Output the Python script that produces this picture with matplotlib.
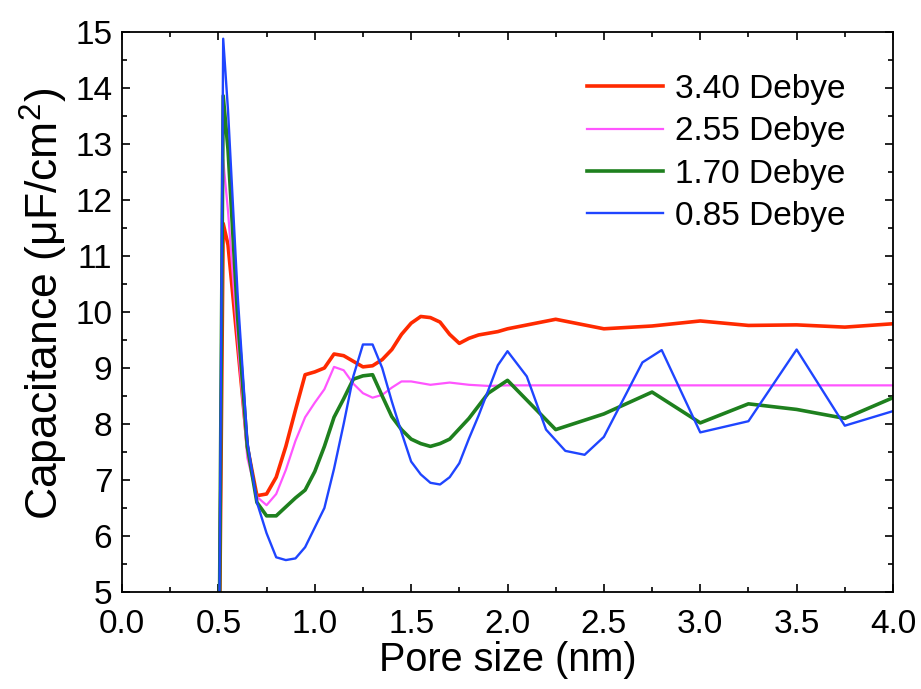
import matplotlib
matplotlib.use("Agg")
import matplotlib.pyplot as plt
from matplotlib.ticker import MultipleLocator

plt.rcParams["font.family"] = ["Liberation Sans", "DejaVu Sans"]
plt.rcParams["mathtext.fontset"] = "custom"
plt.rcParams["mathtext.rm"] = "Liberation Sans"
plt.rcParams["mathtext.default"] = "regular"

# Data (pore size in nm, capacitance in uF/cm^2)
x_red = [0.5, 0.525, 0.55, 0.6, 0.65, 0.7, 0.75, 0.8, 0.85, 0.9, 0.95, 1.0, 1.05, 1.1, 1.15,
         1.2, 1.25, 1.3, 1.35, 1.4, 1.45, 1.5, 1.55, 1.6, 1.65, 1.7, 1.75, 1.8, 1.85, 1.9,
         1.95, 2.0, 2.25, 2.5, 2.75, 3.0, 3.25, 3.5, 3.75, 4.0]
y_red = [2.0, 11.58, 11.2, 9.4, 7.6, 6.72, 6.75, 7.05, 7.6, 8.25, 8.88, 8.93, 9.0, 9.25, 9.22,
         9.12, 9.02, 9.04, 9.15, 9.33, 9.6, 9.8, 9.92, 9.9, 9.82, 9.6, 9.44, 9.53, 9.59, 9.62,
         9.65, 9.7, 9.87, 9.7, 9.75, 9.84, 9.76, 9.77, 9.73, 9.79]

x_pink = [0.5, 0.525, 0.55, 0.6, 0.65, 0.7, 0.75, 0.8, 0.85, 0.9, 0.95, 1.0, 1.05, 1.1, 1.15,
          1.2, 1.25, 1.3, 1.35, 1.4, 1.45, 1.5, 1.55, 1.6, 1.65, 1.7, 1.75, 1.8, 1.9, 2.0,
          2.5, 3.0, 3.5, 4.0]
y_pink = [2.0, 12.72, 11.8, 9.5, 7.4, 6.7, 6.55, 6.75, 7.18, 7.7, 8.12, 8.38, 8.62, 9.02, 8.96,
          8.72, 8.55, 8.47, 8.52, 8.65, 8.76, 8.76, 8.73, 8.7, 8.72, 8.74, 8.72, 8.7, 8.68, 8.69,
          8.69, 8.69, 8.69, 8.69]

x_green = [0.5, 0.525, 0.55, 0.6, 0.65, 0.7, 0.75, 0.8, 0.85, 0.9, 0.95, 1.0, 1.05, 1.1, 1.15,
           1.2, 1.25, 1.3, 1.35, 1.4, 1.45, 1.5, 1.55, 1.6, 1.65, 1.7, 1.8, 1.9, 2.0, 2.25,
           2.5, 2.75, 3.0, 3.25, 3.5, 3.75, 4.0]
y_green = [2.0, 13.86, 12.9, 9.9, 7.6, 6.6, 6.36, 6.36, 6.52, 6.68, 6.82, 7.15, 7.6, 8.12, 8.45,
           8.8, 8.86, 8.88, 8.5, 8.13, 7.9, 7.73, 7.65, 7.6, 7.65, 7.73, 8.1, 8.55, 8.78, 7.9,
           8.18, 8.57, 8.02, 8.36, 8.26, 8.1, 8.47]

x_blue = [0.5, 0.525, 0.55, 0.6, 0.65, 0.7, 0.75, 0.8, 0.85, 0.9, 0.95, 1.0, 1.05, 1.1, 1.15,
          1.2, 1.25, 1.3, 1.35, 1.4, 1.45, 1.5, 1.55, 1.6, 1.65, 1.7, 1.75, 1.8, 1.85, 1.9,
          1.95, 2.0, 2.1, 2.2, 2.3, 2.4, 2.5, 2.7, 2.8, 3.0, 3.25, 3.5, 3.75, 4.0]
y_blue = [2.0, 14.88, 13.6, 10.3, 7.7, 6.6, 6.05, 5.62, 5.57, 5.6, 5.8, 6.15, 6.5, 7.2, 8.0,
          8.85, 9.42, 9.42, 9.0, 8.4, 7.85, 7.33, 7.1, 6.95, 6.92, 7.05, 7.3, 7.74, 8.15, 8.6,
          9.05, 9.3, 8.85, 7.9, 7.52, 7.45, 7.77, 9.1, 9.32, 7.85, 8.05, 9.33, 7.97, 8.23]

labels = ["3.40 Debye", "2.55 Debye", "1.70 Debye", "0.85 Debye"]
colors = ["#FF2A00", "#FF55FF", "#1E801E", "#1F45FF"]
widths = [2.6, 1.6, 2.6, 1.7]

fig = plt.figure(figsize=(9.21, 6.89), dpi=100)
ax = fig.add_axes([122 / 921, 1 - 592 / 689, (893 - 122) / 921, (592 - 32) / 689])

series = [(x_red, y_red), (x_pink, y_pink), (x_green, y_green), (x_blue, y_blue)]
for (xs, ys), lab, c, lw in zip(series, labels, colors, widths):
    ax.plot(xs, ys, color=c, lw=lw, label=lab)

ax.set_xlim(0, 4.0)
ax.set_ylim(5, 15)
ax.xaxis.set_major_locator(MultipleLocator(0.5))
ax.xaxis.set_minor_locator(MultipleLocator(0.25))
ax.yaxis.set_major_locator(MultipleLocator(1))
ax.yaxis.set_minor_locator(MultipleLocator(0.5))
ax.tick_params(which="both", direction="in", top=True, right=True, width=1.2)
ax.tick_params(which="major", length=6)
ax.tick_params(which="minor", length=3.5)
ax.tick_params(axis="x", labelsize=24, pad=12)
ax.tick_params(axis="y", labelsize=24, pad=7)
for sp in ax.spines.values():
    sp.set_linewidth(1.3)

ax.set_xlabel("Pore size (nm)", fontsize=28.5, labelpad=1)
ax.set_ylabel("Capacitance (μF/cm$^{2}$)", fontsize=32, labelpad=4)
ax.yaxis.label.set_y(0.515)

ax.legend(loc="upper left", bbox_to_anchor=(587 / 921, 1 - 74 / 689),
          bbox_transform=fig.transFigure, frameon=False, fontsize=24,
          handlelength=2.28, handletextpad=0.36, labelspacing=0.34,
          borderpad=0, borderaxespad=0)

fig.savefig("out.png", dpi=100)
